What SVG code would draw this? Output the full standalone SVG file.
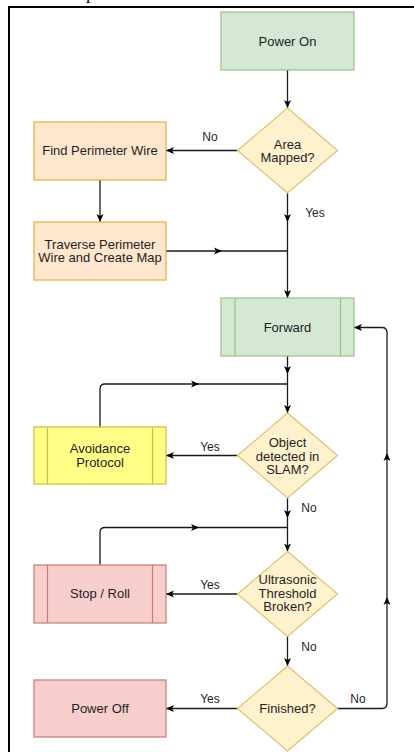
<svg xmlns="http://www.w3.org/2000/svg" width="414" height="752" viewBox="0 0 414 752">
<style>
.t{font-family:"Liberation Sans",Arial,sans-serif;font-size:13px;fill:#1e1e28;text-anchor:middle}
.l{font-family:"Liberation Sans",Arial,sans-serif;font-size:12px;fill:#1e1e28;text-anchor:middle}
.e{fill:none;stroke:#1a1a1a;stroke-width:1.3}
.g{fill:#d5e8d4;stroke:#97c483;stroke-width:1.2}
.o{fill:#ffe6cc;stroke:#e0b040;stroke-width:1.2}
.y{fill:#ffff88;stroke:#c2c23a;stroke-width:1.2}
.r{fill:#f8cecc;stroke:#c97a76;stroke-width:1.2}
.d{fill:#fff2cc;stroke:#dcc070;stroke-width:1.2}
</style>
<defs>
<marker id="a" markerWidth="9" markerHeight="8" refX="8" refY="4" orient="auto" markerUnits="userSpaceOnUse"><path d="M0,0.5 L8,4 L0,7.5 L2,4 z" fill="#000"/></marker>
</defs>
<rect width="414" height="752" fill="#fff"/>
<text x="86" y="-1" font-family="'Liberation Serif',serif" font-size="18" fill="#000">p</text>
<g id="frame" fill="none" stroke="#000" stroke-width="2">
<path d="M9,752 V7 H414"/>
</g>
<g id="connectors">
<path class="e" d="M287.5,70 V108" marker-end="url(#a)"/>
<path class="e" d="M237.5,150.5 H166" marker-end="url(#a)"/>
<path class="e" d="M100,180 V222" marker-end="url(#a)"/>
<path class="e" d="M287.5,193 V222" marker-end="url(#a)"/>
<path class="e" d="M287.5,222 V298" marker-end="url(#a)"/>
<path class="e" d="M166,251 H222" marker-end="url(#a)"/>
<path class="e" d="M222,251 H287.5"/>
<path class="e" d="M287.5,356 V374" marker-end="url(#a)"/>
<path class="e" d="M287.5,374 V413" marker-end="url(#a)"/>
<path class="e" d="M100,427 V389 Q100,384 105,384 H199" marker-end="url(#a)"/>
<path class="e" d="M199,384 H287.5"/>
<path class="e" d="M237.5,455.5 H166" marker-end="url(#a)"/>
<path class="e" d="M287.5,498 V518" marker-end="url(#a)"/>
<path class="e" d="M287.5,518 V551.5" marker-end="url(#a)"/>
<path class="e" d="M100,565 V532.5 Q100,527.5 105,527.5 H199" marker-end="url(#a)"/>
<path class="e" d="M199,527.5 H287.5"/>
<path class="e" d="M237.5,594 H166" marker-end="url(#a)"/>
<path class="e" d="M287.5,636.5 V666" marker-end="url(#a)"/>
<path class="e" d="M237.5,708.5 H166" marker-end="url(#a)"/>
<path class="e" d="M337.5,708.5 H382 Q387,708.5 387,703.5 V597" marker-end="url(#a)"/>
<path class="e" d="M387,597 V453" marker-end="url(#a)"/>
<path class="e" d="M387,453 V332.5 Q387,327.5 382,327.5 H354" marker-end="url(#a)"/>
<text class="l" x="210" y="141">No</text>
<text class="l" x="315" y="217">Yes</text>
<text class="l" x="210" y="451">Yes</text>
<text class="l" x="309" y="512">No</text>
<text class="l" x="210" y="588.5">Yes</text>
<text class="l" x="309" y="651">No</text>
<text class="l" x="210" y="702.5">Yes</text>
<text class="l" x="358" y="702.5">No</text>
</g>
<g id="power-on">
<rect class="g" x="221" y="12" width="133" height="58"/>
<text class="t" x="287.5" y="45.5">Power On</text>
</g>
<g id="area-mapped">
<path class="d" d="M287.5,108 L337.5,150.5 L287.5,193 L237.5,150.5 Z"/>
<text class="t" x="287.5" y="148.5">Area</text>
<text class="t" x="287.5" y="162">Mapped?</text>
</g>
<g id="find-wire">
<rect class="o" x="34" y="122" width="132" height="58"/>
<text class="t" x="100" y="155">Find Perimeter Wire</text>
</g>
<g id="traverse">
<rect class="o" x="34" y="222" width="132" height="58"/>
<text class="t" x="100" y="248.5">Traverse Perimeter</text>
<text class="t" x="100" y="262">Wire and Create Map</text>
</g>
<g id="forward">
<rect class="g" x="221" y="298" width="133" height="58"/>
<path class="g" d="M235,298 V356 M340.5,298 V356"/>
<text class="t" x="287.5" y="332">Forward</text>
</g>
<g id="object-detected">
<path class="d" d="M287.5,413 L337.5,455.5 L287.5,498 L237.5,455.5 Z"/>
<text class="t" x="287.5" y="447">Object</text>
<text class="t" x="287.5" y="460.5">detected in</text>
<text class="t" x="287.5" y="474">SLAM?</text>
</g>
<g id="avoidance">
<rect class="y" x="34" y="427" width="132" height="57"/>
<path class="y" d="M47.5,427 V484 M152.5,427 V484"/>
<text class="t" x="100" y="453">Avoidance</text>
<text class="t" x="100" y="466.5">Protocol</text>
</g>
<g id="ultrasonic">
<path class="d" d="M287.5,551.5 L337.5,594 L287.5,636.5 L237.5,594 Z"/>
<text class="t" x="287.5" y="584">Ultrasonic</text>
<text class="t" x="287.5" y="597.5">Threshold</text>
<text class="t" x="287.5" y="611">Broken?</text>
</g>
<g id="stop-roll">
<rect class="r" x="34" y="565" width="132" height="58"/>
<path class="r" d="M47.5,565 V623 M152.5,565 V623"/>
<text class="t" x="100" y="598">Stop / Roll</text>
</g>
<g id="finished">
<path class="d" d="M287.5,666 L337.5,708.5 L287.5,751 L237.5,708.5 Z"/>
<text class="t" x="287.5" y="713">Finished?</text>
</g>
<g id="power-off">
<rect class="r" x="34" y="680" width="132" height="57"/>
<text class="t" x="100" y="713">Power Off</text>
</g>
</svg>
